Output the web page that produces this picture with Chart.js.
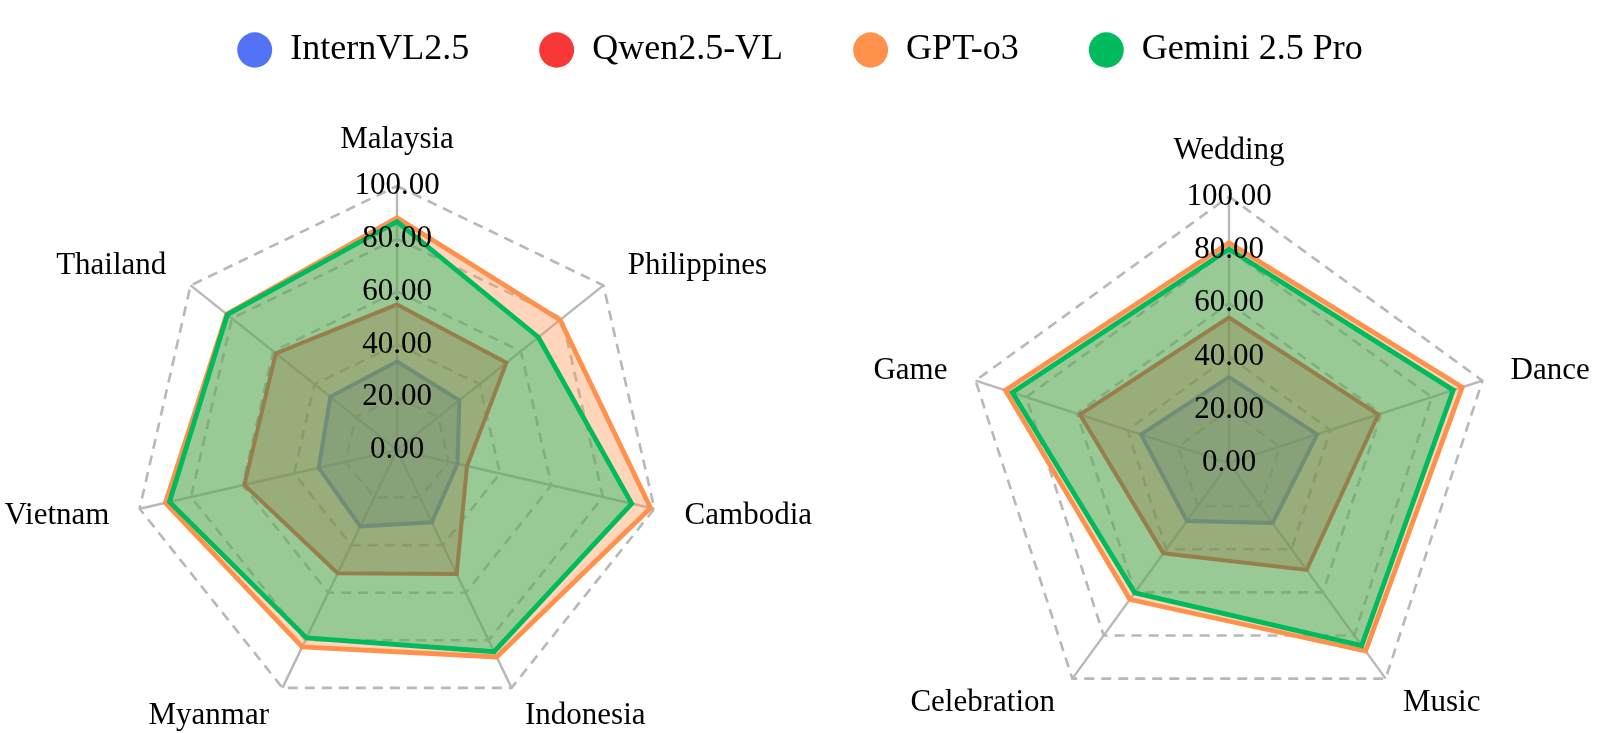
<!DOCTYPE html>
<html>
<head>
<meta charset="utf-8">
<script src="https://cdn.jsdelivr.net/npm/chart.js@4.4.1/dist/chart.umd.min.js"></script>
<style>
  html, body { margin: 0; padding: 0; background: #fff; overflow: hidden; }
  body { position: relative; width: 1600px; height: 733px; }
  canvas { position: absolute; }
  #legend { left: 0; top: -38px; }
  #countries { left: -63px; top: 124px; }
  #events { left: 829px; top: 135px; }
</style>
</head>
<body>
<canvas id="legend" width="1600" height="300"></canvas>
<canvas id="countries" width="920" height="623"></canvas>
<canvas id="events" width="800" height="627"></canvas>
<script>
const models = [ 'InternVL2.5', 'Qwen2.5-VL', 'GPT-o3', 'Gemini 2.5 Pro' ]
const countries = [ 'Malaysia', 'Philippines', 'Cambodia', 'Indonesia', 'Myanmar', 'Vietnam', 'Thailand' ]
const events = [ 'Wedding', 'Dance', 'Music', 'Celebration', 'Game' ]

const internCountries = [33.5, 30.2, 23.5, 30.4, 32.1, 30.4, 32.3]
const qwenCountries = [55.1, 53.0, 27.2, 52.1, 51.8, 59.3, 58.7]
const gptCountries = [88.0, 79.0, 98.5, 87.0, 82.8, 90.0, 82.5]
const geminiCountries = [86.5, 68.5, 91.2, 84.8, 79.0, 88.4, 82.2]

const internEvents = [32.2, 34.8, 27.8, 26.9, 34.7]
const qwenEvents = [54.6, 58.9, 49.6, 41.9, 58.8]
const gptEvents = [82.6, 92.0, 87.2, 63.3, 88.2]
const geminiEvents = [80.3, 88.5, 84.7, 60.2, 85.5]

const lineColors = [ '#5273F6', '#F83737', '#FF914D', '#00BA5E' ]
const fillColors = [ 'rgba(82,115,246,0.38)', 'rgba(248,55,55,0.38)', 'rgba(255,145,77,0.38)', 'rgba(0,186,94,0.4)' ]
const serif = "'Liberation Serif', 'Times New Roman', serif"

function legendChart() {
  const ctx = document.getElementById('legend')
  new Chart(ctx, {
    type: 'bar',
    data: {
      labels: [],
      datasets: models.map((label, i) => ({ label, data: [], backgroundColor: lineColors[i], borderWidth: 0 })),
    },
    options: {
      responsive: false,
      animation: false,
      scales: { x: { display: false }, y: { display: false } },
      plugins: {
        tooltip: { enabled: false },
        legend: {
          position: 'top',
          labels: {
            usePointStyle: true,
            pointStyle: 'circle',
            boxHeight: 25,
            pointStyleWidth: 35,
            padding: 70,
            color: '#000',
            font: { family: serif, size: 36 },
          },
        },
      },
    },
  })
}

function radarChart(id, labels, series, sidePad, topPad) {
  const ctx = document.getElementById(id)
  const config = {
    type: 'radar',
    data: {
      labels,
      datasets: series.map((data, i) => ({
        label: models[i],
        data,
        order: series.length - i,
        borderColor: lineColors[i],
        backgroundColor: fillColors[i],
        borderWidth: i < 2 ? 4 : 4.8,
        pointRadius: 0,
        fill: 'start',
      })),
    },
    options: {
      responsive: false,
      animation: false,
      plugins: { legend: { display: false }, tooltip: { enabled: false } },
      scales: {
        r: {
          // just under zero so the "0.00" tick label is drawn in the centre
          min: -0.0001,
          max: 100,
          angleLines: { color: '#B8B8B8', lineWidth: 2.4 },
          grid: {
            color: (c) => c.index === 0 ? 'rgba(0,0,0,0)' : '#B8B8B8',
            lineWidth: 2.6,
            borderDash: [10, 7],
          },
          border: { dash: [10, 7] },
          ticks: {
            stepSize: 20,
            z: 1,
            showLabelBackdrop: false,
            backdropPadding: { x: 2, y: 1 },
            color: '#000',
            font: { family: serif, size: 31 },
            callback: (v) => Math.abs(v).toFixed(2),
          },
          pointLabels: {
            color: '#000',
            font: { family: serif, size: 31, lineHeight: '1px' },
            padding: (c) => c.index === 0 ? topPad : sidePad,
          },
        },
      },
    },
  }
  new Chart(ctx, config)
}

legendChart()
radarChart('countries', countries, [internCountries, qwenCountries, gptCountries, geminiCountries], 14.5, 29.5)
radarChart('events', events, [internEvents, qwenEvents, gptEvents, geminiEvents], 13, 29)
</script>
</body>
</html>
